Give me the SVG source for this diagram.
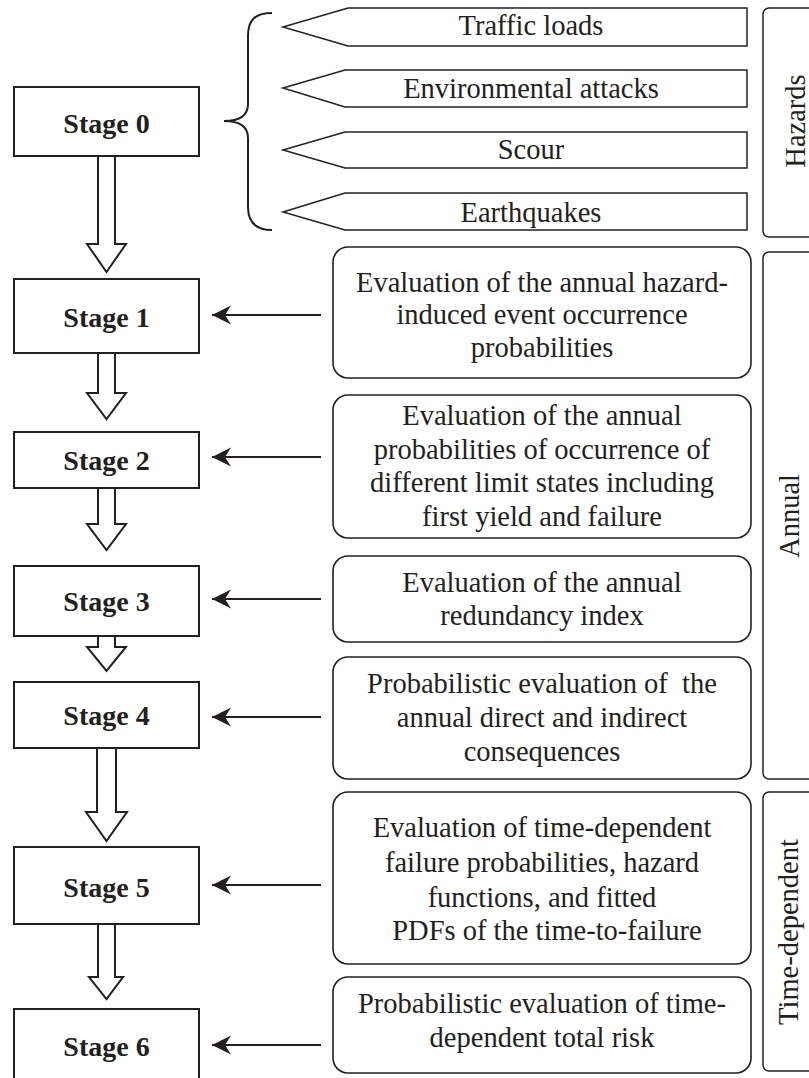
<svg xmlns="http://www.w3.org/2000/svg" width="809" height="1078" viewBox="0 0 809 1078">
<style>
.stage{fill:#fff;stroke:#231f20;stroke-width:2}
.desc{fill:#fff;stroke:#231f20;stroke-width:1.6}
.lbl{fill:#fff;stroke:#231f20;stroke-width:1.5}
.haz{fill:#fff;stroke:#231f20;stroke-width:1.5}
.blk{fill:#fff;stroke:#231f20;stroke-width:2;stroke-linejoin:miter}
.conn{stroke:#231f20;stroke-width:2;fill:none}
.st{font-family:"Liberation Serif","Times New Roman",serif;font-weight:bold;font-size:28px;fill:#231f20;text-anchor:middle}
.tx{font-family:"Liberation Serif","Times New Roman",serif;font-size:28.5px;fill:#231f20;text-anchor:middle}
</style>
<defs>
<marker id="ah" viewBox="-20 -10 21 20" refX="0" refY="0" markerWidth="21" markerHeight="20" markerUnits="userSpaceOnUse" orient="auto">
<path d="M0,0 L-19,-9.5 L-13,0 L-19,9.5 Z" fill="#231f20"/>
</marker>
</defs>
<rect width="809" height="1078" fill="#fff"/>

<g id="hazards">
<polygon class="haz" points="283,27 348,8 747,8 747,46 348,46"/>
<text class="tx" x="531" y="35">Traffic loads</text>
<polygon class="haz" points="283,88 345,70 747,70 747,107 345,107"/>
<text class="tx" x="531" y="98">Environmental attacks</text>
<polygon class="haz" points="283,150 345,132 747,132 747,168 345,168"/>
<text class="tx" x="531" y="159">Scour</text>
<polygon class="haz" points="283,212 345,193 747,193 747,230 345,230"/>
<text class="tx" x="531" y="222">Earthquakes</text>
<path class="conn" d="M272,13 C255,13 248,20 248,36 L248,104 C248,115 240,121 224,121 C240,121 248,127 248,138 L248,207 C248,222 255,230 272,230"/>
</g>

<g id="label-hazards">
<rect class="lbl" x="763" y="8" width="70" height="229" rx="6"/>
<text class="tx" transform="translate(805,121) rotate(-90)">Hazards</text>
</g>
<g id="label-annual">
<rect class="lbl" x="763" y="252" width="70" height="527" rx="6"/>
<text class="tx" transform="translate(799,516) rotate(-90)">Annual</text>
</g>
<g id="label-time">
<rect class="lbl" x="763" y="792" width="70" height="279" rx="6"/>
<text class="tx" transform="translate(798,932) rotate(-90)">Time-dependent</text>
</g>

<g id="stage0"><rect class="stage" x="14" y="87" width="185" height="69"/><text class="st" x="106.5" y="133">Stage 0</text></g>
<g id="stage1"><rect class="stage" x="14" y="279" width="185" height="74"/><text class="st" x="106.5" y="327">Stage 1</text></g>
<g id="stage2"><rect class="stage" x="14" y="432" width="185" height="56"/><text class="st" x="106.5" y="470">Stage 2</text></g>
<g id="stage3"><rect class="stage" x="14" y="566" width="185" height="70"/><text class="st" x="106.5" y="611">Stage 3</text></g>
<g id="stage4"><rect class="stage" x="14" y="682" width="185" height="66"/><text class="st" x="106.5" y="725">Stage 4</text></g>
<g id="stage5"><rect class="stage" x="14" y="847" width="185" height="77"/><text class="st" x="106.5" y="897">Stage 5</text></g>
<g id="stage6"><rect class="stage" x="14" y="1009" width="185" height="90"/><text class="st" x="106.5" y="1056">Stage 6</text></g>

<g id="desc1"><rect class="desc" x="333" y="247" width="418" height="131" rx="15"/>
<text class="tx" x="542" y="292">Evaluation of the annual hazard-</text>
<text class="tx" x="542" y="324">induced event occurrence</text>
<text class="tx" x="542" y="357">probabilities</text></g>
<g id="desc2"><rect class="desc" x="333" y="395" width="418" height="143" rx="15"/>
<text class="tx" x="542" y="425">Evaluation of the annual</text>
<text class="tx" x="542" y="459">probabilities of occurrence of</text>
<text class="tx" x="542" y="492">different limit states including</text>
<text class="tx" x="542" y="526">first yield and failure</text></g>
<g id="desc3"><rect class="desc" x="333" y="556" width="418" height="86" rx="15"/>
<text class="tx" x="542" y="592">Evaluation of the annual</text>
<text class="tx" x="542" y="625">redundancy index</text></g>
<g id="desc4"><rect class="desc" x="333" y="657" width="418" height="122" rx="15"/>
<text class="tx" x="542" y="693" xml:space="preserve">Probabilistic evaluation of  the</text>
<text class="tx" x="542" y="727">annual direct and indirect</text>
<text class="tx" x="542" y="761">consequences</text></g>
<g id="desc5"><rect class="desc" x="333" y="792" width="418" height="172" rx="15"/>
<text class="tx" x="542" y="837">Evaluation of time-dependent</text>
<text class="tx" x="542" y="872">failure probabilities, hazard</text>
<text class="tx" x="542" y="907">functions, and fitted</text>
<text class="tx" x="547" y="940">PDFs of the time-to-failure</text></g>
<g id="desc6"><rect class="desc" x="333" y="977" width="418" height="96" rx="15"/>
<text class="tx" x="542" y="1013">Probabilistic evaluation of time-</text>
<text class="tx" x="542" y="1047">dependent total risk</text></g>

<g id="connectors">
<polyline class="blk" points="98,157 98,244 87,244 106.5,272 126,244 115,244 115,157"/>
<polyline class="blk" points="98,354 98,393 87,393 106.5,419 126,393 115,393 115,354"/>
<polyline class="blk" points="98,489 98,524 87,524 106.5,550 126,524 115,524 115,489"/>
<polyline class="blk" points="98,637 98,647 87,647 106.5,671 126,647 115,647 115,637"/>
<polyline class="blk" points="97,749 97,812 86,812 106.5,841 127,812 116,812 116,749"/>
<polyline class="blk" points="98,925 98,977 89,977 106.5,999 123,977 115,977 115,925"/>
<line class="conn" x1="321" y1="315" x2="212" y2="315" marker-end="url(#ah)"/>
<line class="conn" x1="321" y1="457" x2="212" y2="457" marker-end="url(#ah)"/>
<line class="conn" x1="321" y1="599" x2="212" y2="599" marker-end="url(#ah)"/>
<line class="conn" x1="321" y1="717" x2="212" y2="717" marker-end="url(#ah)"/>
<line class="conn" x1="321" y1="885" x2="212" y2="885" marker-end="url(#ah)"/>
<line class="conn" x1="321" y1="1045" x2="212" y2="1045" marker-end="url(#ah)"/>
</g>
</svg>
